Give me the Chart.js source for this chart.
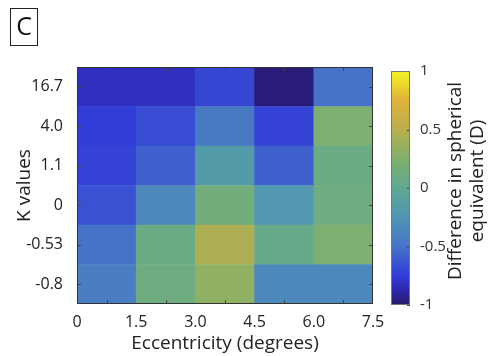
<!DOCTYPE html>
<html>
<head>
<meta charset="utf-8">
<script src="https://cdn.jsdelivr.net/npm/chart.js@4.4.1/dist/chart.umd.min.js"></script>
<style>
  html, body { margin: 0; padding: 0; background: #fff; }
  #wrap { position: relative; width: 488px; height: 356px; }
  #heat { position: absolute; left: 0; top: 0; }
  #cbar { position: absolute; left: 380px; top: 0; }
</style>
</head>
<body>
<div id="wrap">
  <canvas id="heat" width="488" height="356"></canvas>
  <canvas id="cbar" width="108" height="356"></canvas>
</div>
<script>
// eje x: bordes de los intervalos de excentricidad
const eccEdges = [0, 1.5, 3.0, 4.5, 6.0, 7.5];
const eccLabels = ['0', '1.5', '3.0', '4.5', '6.0', '7.5'];
// eje y: valores K (de arriba hacia abajo)
const kLabels = ['16.7', '4.0', '1.1', '0', '-0.53', '-0.8'];
// diferencia en equivalente esférico (D), una fila por valor K
const diffK16_7 = [-0.82, -0.82, -0.70, -0.98, -0.50];
const diffK4_0 = [-0.75, -0.68, -0.45, -0.72, 0.22];
const diffK1_1 = [-0.72, -0.58, -0.18, -0.58, 0.08];
const diffK0 = [-0.65, -0.35, 0.15, -0.22, 0.12];
const diffKm0_53 = [-0.50, 0.08, 0.45, 0.05, 0.22];
const diffKm0_8 = [-0.42, 0.12, 0.32, -0.35, -0.35];
const diffRows = [diffK16_7, diffK4_0, diffK1_1, diffK0, diffKm0_53, diffKm0_8];
// escala de color
const cbTicks = [-1, -0.5, 0, 0.5, 1];

// mapa de colores tipo parula (algo apagado como en la figura)
const cmap = [
  [-1.0, [40, 25, 110]],
  [-0.875, [45, 40, 170]],
  [-0.75, [50, 60, 215]],
  [-0.5, [70, 115, 200]],
  [-0.25, [80, 150, 180]],
  [0.0, [95, 168, 145]],
  [0.25, [128, 176, 108]],
  [0.5, [185, 175, 78]],
  [0.75, [225, 178, 58]],
  [1.0, [245, 245, 35]]
];
function colorFor(v) {
  v = Math.max(-1, Math.min(1, v));
  for (let i = 0; i < cmap.length - 1; i++) {
    const [a, ca] = cmap[i], [b, cb] = cmap[i + 1];
    if (v <= b) {
      const t = (v - a) / (b - a);
      const c = ca.map((x, k) => Math.round(x + (cb[k] - x) * t));
      return `rgb(${c[0]},${c[1]},${c[2]})`;
    }
  }
  return 'rgb(245,245,35)';
}

Chart.defaults.font.family = "'Open Sans', sans-serif";
Chart.defaults.color = '#222';

const nRows = kLabels.length;
const cells = [];
diffRows.forEach((row, r) => {
  row.forEach((v, c) => {
    cells.push({ x: (eccEdges[c] + eccEdges[c + 1]) / 2, y: [nRows - 1 - r, nRows - r], v: v });
  });
});

// marco, marcas interiores y la etiqueta "C"
const marcoPlugin = {
  id: 'marco',
  afterDraw(chart) {
    const ctx = chart.ctx, a = chart.chartArea;
    const xs = chart.scales.x, ys = chart.scales.y;
    ctx.save();
    ctx.strokeStyle = '#444';
    ctx.lineWidth = 1;
    ctx.beginPath();
    for (let c = 0; c < eccEdges.length - 1; c++) {
      const px = Math.round(xs.getPixelForValue((eccEdges[c] + eccEdges[c + 1]) / 2)) + 0.5;
      ctx.moveTo(px, a.top); ctx.lineTo(px, a.top + 4);
      ctx.moveTo(px, a.bottom); ctx.lineTo(px, a.bottom - 4);
    }
    for (let r = 0; r < nRows; r++) {
      const py = Math.round(ys.getPixelForValue(r + 0.5)) + 0.5;
      ctx.moveTo(a.left, py); ctx.lineTo(a.left + 4, py);
      ctx.moveTo(a.right, py); ctx.lineTo(a.right - 4, py);
    }
    ctx.stroke();
    ctx.strokeStyle = '#333';
    ctx.strokeRect(Math.round(a.left) + 0.5, Math.round(a.top) + 0.5,
      Math.round(a.right - a.left) - 1, Math.round(a.bottom - a.top) - 1);
    // etiqueta del panel
    ctx.strokeStyle = '#222';
    ctx.strokeRect(10.5, 8.5, 27, 37);
    ctx.fillStyle = '#111';
    ctx.font = "25px 'Open Sans', sans-serif";
    ctx.textAlign = 'center';
    ctx.textBaseline = 'middle';
    ctx.fillText('C', 24, 28);
    ctx.restore();
  }
};

new Chart(document.querySelector('#heat'), {
  type: 'bar',
  data: {
    datasets: [{
      data: cells,
      backgroundColor: ctx => colorFor(ctx.raw ? ctx.raw.v : 0),
      borderWidth: 0,
      barPercentage: 1,
      categoryPercentage: 1
    }]
  },
  options: {
    responsive: false,
    animation: false,
    layout: { padding: { top: 67, right: 115, left: 0, bottom: 0 } },
    plugins: { legend: { display: false }, tooltip: { enabled: false } },
    scales: {
      x: {
        type: 'linear',
        min: 0, max: 7.5,
        offset: false,
        afterBuildTicks: s => { s.ticks = eccEdges.map(v => ({ value: v })); },
        afterFit: s => { s.height = 52; },
        ticks: {
          callback: (v, i) => eccLabels[i],
          font: { size: 16 }, color: '#222', padding: 1, maxRotation: 0
        },
        grid: { display: false },
        border: { display: false },
        title: {
          display: true, text: 'Eccentricity (degrees)',
          font: { size: 19 }, color: '#222', padding: { top: 0, bottom: 1 }
        }
      },
      y: {
        type: 'linear',
        min: 0, max: nRows,
        afterBuildTicks: s => { s.ticks = kLabels.map((k, i) => ({ value: nRows - 1 - i + 0.5 })); },
        afterFit: s => { s.width = 77; },
        ticks: {
          callback: v => kLabels[nRows - 1 - Math.floor(v)],
          font: { size: 16 }, color: '#222', padding: 6
        },
        grid: { display: false },
        border: { display: false },
        title: {
          display: true, text: 'K values',
          font: { size: 19 }, color: '#222', padding: { top: 13, bottom: 0 }
        }
      }
    }
  },
  plugins: [marcoPlugin]
});

// barra de color
const cbarPlugin = {
  id: 'cbarTexto',
  afterDraw(chart) {
    const ctx = chart.ctx, a = chart.chartArea, ys = chart.scales.y;
    ctx.save();
    ctx.strokeStyle = '#444';
    ctx.beginPath();
    cbTicks.forEach(t => {
      const py = Math.round(ys.getPixelForValue(t)) + 0.5;
      ctx.moveTo(a.right, py); ctx.lineTo(a.right - 3, py);
    });
    ctx.stroke();
    ctx.strokeStyle = '#777';
    ctx.strokeRect(Math.round(a.left) + 0.5, Math.round(a.top) + 0.5,
      Math.round(a.right - a.left) - 1, Math.round(a.bottom - a.top) - 1);
    ctx.fillStyle = '#222';
    ctx.font = "19px 'Open Sans', sans-serif";
    ctx.textAlign = 'center';
    ctx.textBaseline = 'middle';
    const cy = 181;
    [['Difference in spherical', 76], ['equivalent (D)', 98]].forEach(([txt, x]) => {
      ctx.save();
      ctx.translate(x, cy);
      ctx.rotate(-Math.PI / 2);
      ctx.fillText(txt, 0, 0);
      ctx.restore();
    });
    ctx.restore();
  }
};

new Chart(document.querySelector('#cbar'), {
  type: 'bar',
  data: {
    labels: [''],
    datasets: [{
      data: [[cbTicks[0], cbTicks[cbTicks.length - 1]]],
      backgroundColor: ctx => {
        const a = ctx.chart.chartArea;
        if (!a) return '#888';
        const g = ctx.chart.ctx.createLinearGradient(0, a.bottom, 0, a.top);
        cmap.forEach(([v, c]) => g.addColorStop((v + 1) / 2, `rgb(${c[0]},${c[1]},${c[2]})`));
        return g;
      },
      borderWidth: 0,
      barPercentage: 1,
      categoryPercentage: 1
    }]
  },
  options: {
    responsive: false,
    animation: false,
    layout: { padding: { top: 71, left: 11, right: 0, bottom: 51 } },
    plugins: { legend: { display: false }, tooltip: { enabled: false } },
    scales: {
      x: { display: false },
      y: {
        position: 'right',
        min: -1, max: 1,
        afterBuildTicks: s => { s.ticks = cbTicks.map(v => ({ value: v })); },
        afterFit: s => { s.width = 78; },
        ticks: { font: { size: 15 }, color: '#333', padding: 2, callback: v => String(v) },
        grid: { display: false },
        border: { display: false }
      }
    }
  },
  plugins: [cbarPlugin]
});
</script>
</body>
</html>
